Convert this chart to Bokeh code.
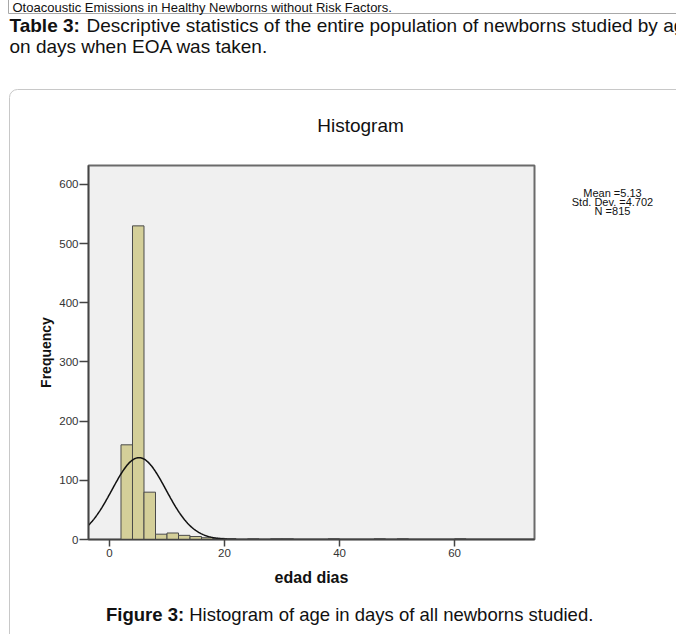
import numpy as np
from bokeh.plotting import figure
from bokeh.models import Range1d, FixedTicker, ColumnDataSource
from bokeh.core.properties import value
from bokeh.embed import file_html
from bokeh.resources import INLINE

# ---- data ----
bin_starts = [2, 4, 6, 8, 10, 12, 14, 16, 18, 20, 24, 28, 30, 38, 46, 50, 60]
counts = [160, 530, 80, 9, 11, 7, 5, 3, 2, 1, 1, 1, 1, 1, 1, 1, 1]
bin_width = 2
mean_val = 5.13
sd_val = 4.702
n_val = 815
y_ticks = [0, 100, 200, 300, 400, 500, 600]
x_ticks = [0, 20, 40, 60]

FONT = "Liberation Sans"
W, H = 676, 634
FL, FR, FT, FB = 88, 534, 165, 539
XR0, XR1, YR0, YR1 = -3.65, 73.9, 0, 632

p = figure(width=W, height=H, output_backend="svg", toolbar_location=None,
           x_range=Range1d(XR0, XR1), y_range=Range1d(YR0, YR1),
           min_border_left=FL, min_border_right=W - FR,
           min_border_top=FT, min_border_bottom=H - FB)
p.background_fill_color = "#F0F0F0"
p.border_fill_color = "white"
p.outline_line_color = "#6a6a6a"
p.outline_line_width = 2
p.grid.visible = False


def dx(X):
    return XR0 + (X - FL) * (XR1 - XR0) / (FR - FL)


def dy(Y):
    return YR0 + (FB - Y) * (YR1 - YR0) / (FB - FT)


src = ColumnDataSource(dict(left=bin_starts,
                            right=[b + bin_width for b in bin_starts],
                            top=counts, bottom=[0] * len(counts)))
p.quad(left="left", right="right", top="top", bottom="bottom", source=src,
       fill_color="#D4CF99", line_color="#4a4a4a", line_width=1)

xs = np.linspace(XR0, XR1, 600)
ys = n_val * bin_width / (sd_val * np.sqrt(2 * np.pi)) * np.exp(-0.5 * ((xs - mean_val) / sd_val) ** 2)
p.line(xs, ys, line_color="#111111", line_width=1.5)

for ax in (p.xaxis[0], p.yaxis[0]):
    ax.axis_line_color = "#444444"
    ax.axis_line_width = 1.5
    ax.major_tick_line_color = "#444444"
    ax.major_tick_line_width = 1.5
    ax.minor_tick_line_color = None
    ax.major_tick_in = 0
    ax.major_label_text_font = FONT
    ax.major_label_text_font_size = "11.5px"
    ax.major_label_text_color = "#333333"
    ax.axis_label_text_font = FONT
    ax.axis_label_text_font_style = "bold"
    ax.axis_label_text_color = "#111111"

p.yaxis[0].ticker = FixedTicker(ticks=y_ticks)
p.xaxis[0].ticker = FixedTicker(ticks=x_ticks)
p.yaxis[0].major_tick_out = 9
p.xaxis[0].major_tick_out = 7
p.yaxis[0].major_label_standoff = 1
p.xaxis[0].major_label_standoff = 2
p.yaxis[0].axis_label = "Frequency"
p.xaxis[0].axis_label = "edad dias"
p.yaxis[0].axis_label_text_font_size = "14px"
p.xaxis[0].axis_label_text_font_size = "16px"
p.yaxis[0].axis_label_standoff = 2
p.xaxis[0].axis_label_standoff = 9

# page boxes (drawn unclipped at overlay level)
p.quad(left=[dx(8)], right=[dx(900)], top=[dy(-40)], bottom=[dy(13)],
       fill_alpha=0, line_color="#a8a8a8", line_width=1, level="overlay")
p.quad(left=[dx(9)], right=[dx(900)], top=[dy(89)], bottom=[dy(900)],
       fill_alpha=0, line_color="#c8c8c8", line_width=1, border_radius=8,
       level="overlay")


def lab(X, Y, text, size, bold=False, align="left", baseline="middle", color="#111111"):
    p.text(x=[dx(X)], y=[dy(Y)], text=[text], text_font=value(FONT),
           text_font_size=value(size),
           text_font_style=value("bold" if bold else "normal"),
           text_align=value(align), text_baseline=value(baseline),
           text_color=color, level="overlay")


# page texts
lab(12, 7, "Otoacoustic Emissions in Healthy Newborns without Risk Factors.", "13px",
    baseline="alphabetic")
lab(9, 25, "Table 3:", "19px", bold=True)
lab(86, 25, "Descriptive statistics of the entire population of newborns studied by age", "19px")
lab(9, 46, "on days when EOA was taken.", "19px")
lab(360, 125, "Histogram", "19px", align="center")
lab(612, 192, "Mean =5.13", "11px", align="center")
lab(612, 201, "Std. Dev. =4.702", "11px", align="center")
lab(612, 210, "N =815", "11px", align="center")
lab(105.5, 614, "Figure 3:", "18.5px", bold=True)
lab(188.7, 614, "Histogram of age in days of all newborns studied.", "18.5px")

open("out.html", "w").write(file_html(p, INLINE))
